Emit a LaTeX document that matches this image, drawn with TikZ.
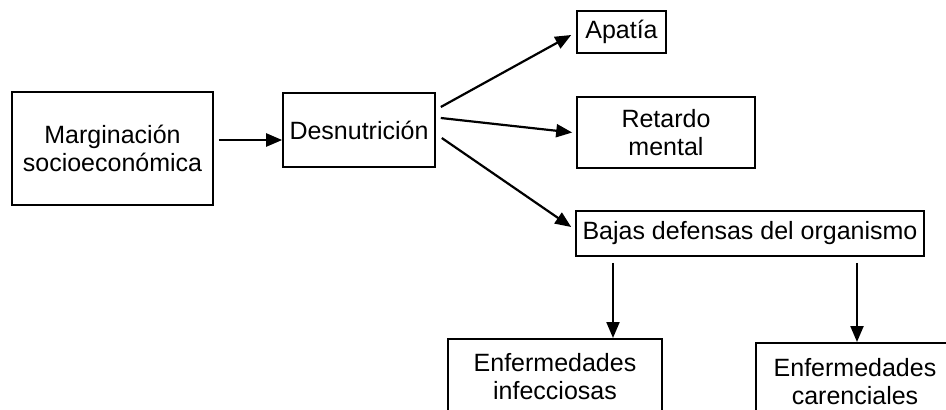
\documentclass[tikz,border=0pt]{standalone}
\usepackage{fontspec}
\setmainfont{Liberation Sans}
\usetikzlibrary{arrows.meta}
\begin{document}
\begin{tikzpicture}[x=1pt,y=-1pt,
  box/.style={draw,line width=1.6pt,rectangle,inner sep=0pt,align=center,
    font=\fontsize{25}{28.5}\selectfont},
  arr/.style={line width=2.2pt,-{Triangle[length=16pt,width=13pt]}}]
\useasboundingbox (0,0) rectangle (946,410);
\clip (0,0) rectangle (946,410);

\node[box,minimum width=201pt,minimum height=113pt] (marg) at (112.5,148.5) {Marginación\\socioeconómica};
\node[box,minimum width=152pt,minimum height=74pt] (desn) at (359,130) {Desnutrición};
\node[box,minimum width=89pt,minimum height=42pt] (apatia) at (621.5,32) {Apatía};
\node[box,minimum width=178pt,minimum height=71pt] (retardo) at (666,132.5) {Retardo\\mental};
\node[box,minimum width=348pt,minimum height=45pt] (bajas) at (750,233.5) {Bajas defensas del organismo};
\node[box,anchor=north,minimum width=214pt,minimum height=76pt] (inf) at (555,338) {Enfermedades\\infecciosas};
\node[box,anchor=north,minimum width=198pt,minimum height=78pt] (car) at (855,342) {Enfermedades\\carenciales};

\draw[arr] ([xshift=5pt,yshift=8.5pt]marg.east) -- ([yshift=-10pt]desn.west);
\draw[arr] ([xshift=5pt,yshift=23pt]desn.east) -- ([xshift=-5pt,yshift=-3pt]apatia.west);
\draw[arr] ([xshift=5pt,yshift=12pt]desn.east) -- ([xshift=-4pt]retardo.west);
\draw[arr] ([xshift=6pt,yshift=-8pt]desn.east) -- ([xshift=-4pt,yshift=6.5pt]bajas.west);
\draw[arr] ([xshift=-137pt,yshift=-6pt]bajas.south) -- ([xshift=58pt]inf.north);
\draw[arr] ([xshift=107pt,yshift=-6pt]bajas.south) -- ([xshift=2pt]car.north);
\end{tikzpicture}
\end{document}
